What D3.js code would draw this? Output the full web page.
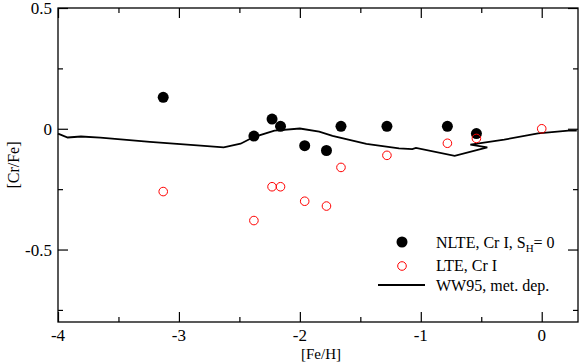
<!DOCTYPE html>
<html>
<head>
<meta charset="utf-8">
<script src="https://cdn.jsdelivr.net/npm/d3@7"></script>
<style>
    body { margin: 0; background: #fff; overflow: hidden; }
    svg { display: block; }
    svg text { font-family: "Liberation Serif", "Times New Roman", Times, "DejaVu Serif", serif; }
</style>
</head>
<body>
<div id="chart"></div>
<script>
// NLTE, Cr I, S_H = 0
const nlteFeH = [-3.13, -2.38, -2.23, -2.16, -1.96, -1.78, -1.66, -1.28, -0.78, -0.54];
const nlteCrFe = [0.13, -0.03, 0.04, 0.01, -0.07, -0.09, 0.01, 0.01, 0.01, -0.02];

// LTE, Cr I
const lteFeH = [-3.13, -2.38, -2.23, -2.16, -1.96, -1.78, -1.66, -1.28, -0.78, -0.54, 0];
const lteCrFe = [-0.26, -0.38, -0.24, -0.24, -0.30, -0.32, -0.16, -0.11, -0.06, -0.04, 0];

// WW95, met. dep.
const wwFeH = [-4.0, -3.92, -3.81, -3.65, -3.24, -2.82, -2.63, -2.49, -2.39, -2.21, -2.0, -1.84, -1.73,
    -1.45, -1.18, -1.07, -1.04, -0.72, -0.45, -0.59, -0.31, -0.03, 0.22, 0.29];
const wwCrFe = [-0.02, -0.036, -0.032, -0.037, -0.054, -0.07, -0.077, -0.062, -0.036, -0.008, 0.001, -0.012, -0.029,
    -0.063, -0.081, -0.084, -0.079, -0.112, -0.077, -0.066, -0.045, -0.019, -0.008, -0.008];

const xMajor = [-4, -3, -2, -1, 0];
const yMajor = [0.5, 0, -0.5];
const xMinor = [-3.5, -2.5, -1.5, -0.5];
const yMinor = [0.25, -0.25, -0.75];

const width = 581, height = 364;
const margin = { left: 58, right: 3, top: 8, bottom: 42 };
const serif = '"Liberation Serif", "Times New Roman", Times, serif';

const svg = d3.select("#chart").append("svg")
    .attr("width", width)
    .attr("height", height);

const x = d3.scaleLinear().domain([-4, 0.3]).range([margin.left, width - margin.right]);
const y = d3.scaleLinear().domain([-0.8, 0.5]).range([height - margin.bottom, margin.top]);

const x0 = margin.left, x1 = width - margin.right;
const y0 = height - margin.bottom, y1 = margin.top;

// Frame
svg.append("rect")
    .attr("x", x0).attr("y", y1)
    .attr("width", x1 - x0).attr("height", y0 - y1)
    .attr("fill", "none").attr("stroke", "#000").attr("stroke-width", 1.3);

// Ticks pointing inward, on all four sides
function tickAxis(axis, vals, size) {
    return axis.tickValues(vals).tickSize(size).tickSizeOuter(0).tickFormat("");
}

const sides = [
    [() => d3.axisTop(x), `translate(0,${y0})`, xMinor, xMajor],
    [() => d3.axisBottom(x), `translate(0,${y1})`, xMinor, xMajor],
    [() => d3.axisRight(y), `translate(${x0},0)`, yMinor, yMajor],
    [() => d3.axisLeft(y), `translate(${x1},0)`, yMinor, yMajor]
];
sides.forEach(([mk, tr, minor, major]) => {
    svg.append("g").attr("transform", tr).call(tickAxis(mk(), minor, 5));
    svg.append("g").attr("transform", tr).call(tickAxis(mk(), major, 10));
});

svg.selectAll(".domain").remove();
svg.selectAll(".tick line").attr("stroke", "#000").attr("stroke-width", 1.2);

// Tick labels
svg.append("g").selectAll("text")
    .data(xMajor).enter().append("text")
    .attr("x", d => x(d))
    .attr("y", y0 + 19)
    .attr("text-anchor", "middle")
    .attr("font-family", serif)
    .attr("font-size", 17)
    .text(d => d === 0 ? "0" : d);

svg.append("g").selectAll("text")
    .data(yMajor).enter().append("text")
    .attr("x", x0 - 6)
    .attr("y", d => y(d) + 6)
    .attr("text-anchor", "end")
    .attr("font-family", serif)
    .attr("font-size", 17)
    .text(d => d === 0 ? "0" : d);

// Axis titles
svg.append("text")
    .attr("x", (x0 + x1) / 2 + 3)
    .attr("y", height - 5)
    .attr("text-anchor", "middle")
    .attr("font-family", serif)
    .attr("font-size", 15)
    .text("[Fe/H]");

svg.append("text")
    .attr("transform", `translate(19,${(y0 + y1) / 2}) rotate(-90)`)
    .attr("text-anchor", "middle")
    .attr("font-family", serif)
    .attr("font-size", 16)
    .text("[Cr/Fe]");

// WW95 line
const line = d3.line()
    .x(d => x(d[0]))
    .y(d => y(d[1]));

svg.append("path")
    .datum(d3.zip(wwFeH, wwCrFe))
    .attr("d", line)
    .attr("fill", "none")
    .attr("stroke", "#000")
    .attr("stroke-width", 1.8);

// NLTE points
svg.append("g").selectAll("circle")
    .data(d3.zip(nlteFeH, nlteCrFe)).enter().append("circle")
    .attr("cx", d => x(d[0]))
    .attr("cy", d => y(d[1]))
    .attr("r", 5.5)
    .attr("fill", "#000");

// LTE points
svg.append("g").selectAll("circle")
    .data(d3.zip(lteFeH, lteCrFe)).enter().append("circle")
    .attr("cx", d => x(d[0]))
    .attr("cy", d => y(d[1]))
    .attr("r", 4.3)
    .attr("fill", "none")
    .attr("stroke", "#ff0000")
    .attr("stroke-width", 1);

// Legend
const legend = svg.append("g").attr("font-size", 16).attr("font-family", serif);

legend.append("circle").attr("cx", 402).attr("cy", 242).attr("r", 5.5).attr("fill", "#000");
const t1 = legend.append("text").attr("x", 436).attr("y", 248);
t1.append("tspan").text("NLTE, Cr I, S");
t1.append("tspan").attr("font-size", 11).attr("dy", 4).text("H");
t1.append("tspan").attr("dy", -4).text("= 0");

legend.append("circle").attr("cx", 402).attr("cy", 266).attr("r", 4.3)
    .attr("fill", "none").attr("stroke", "#ff0000").attr("stroke-width", 1);
legend.append("text").attr("x", 436).attr("y", 271).text("LTE, Cr I");

legend.append("line").attr("x1", 378).attr("x2", 425).attr("y1", 285).attr("y2", 285)
    .attr("stroke", "#000").attr("stroke-width", 1.8);
legend.append("text").attr("x", 436).attr("y", 291).text("WW95, met. dep.");
</script>
</body>
</html>
